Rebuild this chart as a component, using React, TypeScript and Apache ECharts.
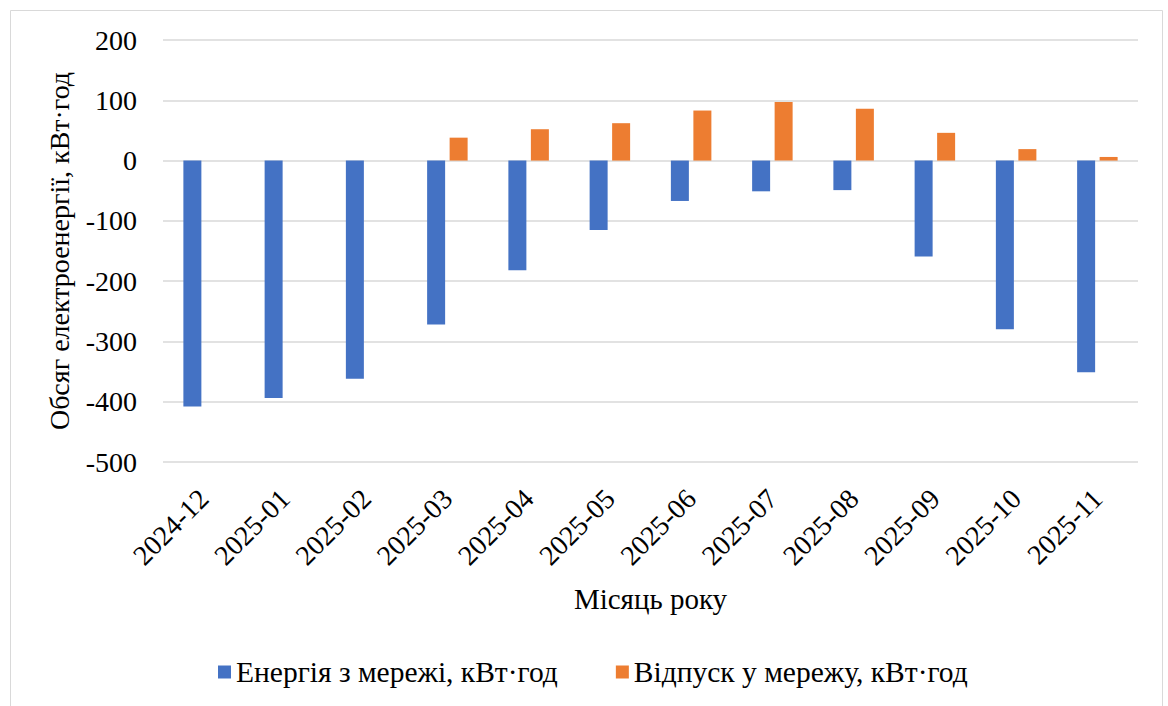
import React, { useEffect, useRef } from "react";
import * as echarts from "echarts";

const categories = [
  "2024-12", "2025-01", "2025-02", "2025-03", "2025-04", "2025-05",
  "2025-06", "2025-07", "2025-08", "2025-09", "2025-10", "2025-11",
];
const gridImport = [-408, -394, -362, -272, -182, -115, -67, -51, -49, -159, -280, -351];
const gridExport = [0, 0, 0, 38, 52, 62, 83, 97, 86, 46, 19, 6];
const yTicks = { min: -500, max: 200, interval: 100 };

const FONT = "Times New Roman, Liberation Serif, DejaVu Serif, serif";

export default function App() {
  const ref = useRef<HTMLDivElement>(null);
  useEffect(() => {
    if (!ref.current) return;
    const chart = echarts.init(ref.current, null, { renderer: "svg" });
    chart.setOption({
      animation: false,
      backgroundColor: "#ffffff",
      textStyle: { fontFamily: FONT, color: "#000" },
      graphic: [
        {
          type: "rect",
          shape: { x: 10.5, y: 10.5, width: 1152, height: 700 },
          style: { fill: "none", stroke: "#d9d9d9", lineWidth: 1 },
          silent: true,
        },
      ],
      grid: { left: 163, right: 30, top: 40, bottom: 244 },
      legend: {
        left: 213,
        top: 652,
        icon: "rect",
        itemWidth: 13,
        itemHeight: 13,
        itemGap: 58,
        textStyle: { fontFamily: FONT, fontSize: 29.5, color: "#000" },
        data: ["Енергія з мережі, кВт·год", "Відпуск у мережу, кВт·год"],
      },
      xAxis: {
        type: "category",
        data: categories,
        name: "Місяць року",
        nameLocation: "middle",
        nameGap: 122,
        nameTextStyle: { fontFamily: FONT, fontSize: 29, color: "#000" },
        axisLine: { show: false, onZero: false },
        axisTick: { show: false },
        axisLabel: {
          rotate: 45,
          interval: 0,
          margin: 32,
          fontFamily: FONT,
          fontSize: 28,
          color: "#000",
        },
      },
      yAxis: {
        type: "value",
        min: yTicks.min,
        max: yTicks.max,
        interval: yTicks.interval,
        name: "Обсяг електроенергії, кВт·год",
        nameLocation: "middle",
        nameGap: 90,
        nameTextStyle: { fontFamily: FONT, fontSize: 28, color: "#000" },
        axisLine: { show: false },
        axisTick: { show: false },
        axisLabel: { fontFamily: FONT, fontSize: 28, color: "#000", margin: 26 },
        splitLine: { lineStyle: { color: "#d9d9d9", width: 1.5 } },
      },
      series: [
        {
          name: "Енергія з мережі, кВт·год",
          type: "bar",
          data: gridImport,
          barWidth: 18,
          barGap: "25%",
          itemStyle: { color: "#4472C4" },
        },
        {
          name: "Відпуск у мережу, кВт·год",
          type: "bar",
          data: gridExport,
          barWidth: 18,
          itemStyle: { color: "#ED7D31" },
        },
      ],
    });
    return () => chart.dispose();
  }, []);
  return (
    <div
      ref={ref}
      style={{ position: "fixed", left: 0, top: 0, width: 1168, height: 706 }}
    />
  );
}
